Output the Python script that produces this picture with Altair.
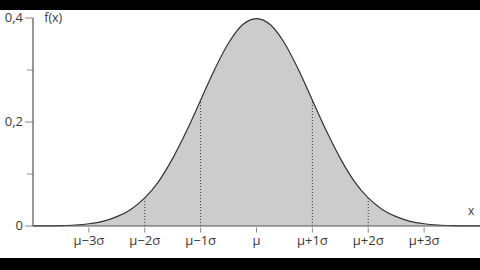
import altair as alt
import pandas as pd

# Curve values (x in units of sigma, f(x))
curve_x = [-4.0, -3.75, -3.5, -3.25, -3.0, -2.75, -2.5, -2.25, -2.0, -1.75, -1.5, -1.25, -1.0,
           -0.75, -0.5, -0.25, 0.0, 0.25, 0.5, 0.75, 1.0, 1.25, 1.5, 1.75, 2.0, 2.25, 2.5,
           2.75, 3.0, 3.25, 3.5, 3.75, 4.0]
curve_y = [0.0001, 0.0004, 0.0009, 0.002, 0.0044, 0.009, 0.018, 0.032, 0.054, 0.086, 0.130,
           0.183, 0.242, 0.301, 0.352, 0.387, 0.399, 0.387, 0.352, 0.301, 0.242, 0.183, 0.130,
           0.086, 0.054, 0.032, 0.018, 0.009, 0.0044, 0.002, 0.0009, 0.0004, 0.0001]

# Dotted guide lines
guide_x = [-2, -1, 1, 2]
guide_y = [0.054, 0.242, 0.242, 0.054]

# X tick positions and labels
xtick_pos = [-3, -2, -1, 0, 1, 2, 3]
xtick_labels = ["μ−3σ", "μ−2σ", "μ−1σ", "μ", "μ+1σ", "μ+2σ", "μ+3σ"]

# Y ticks
ytick_major = [0.0, 0.2, 0.4]
ytick_major_labels = ["0", "0,2", "0,4"]
ytick_minor = [0.1, 0.3]

XMIN, XMAX = -4.5906, 4.0
YMIN, YMAX = -0.0615, 0.4154

xs = alt.Scale(domain=[XMIN, XMAX], nice=False, zero=False)
ys = alt.Scale(domain=[YMIN, YMAX], nice=False, zero=False)


def X(f):
    return alt.X(f, type="quantitative", scale=xs, axis=None)


def Y(f):
    return alt.Y(f, type="quantitative", scale=ys, axis=None)


curve = pd.DataFrame({"x": curve_x, "y": curve_y, "y0": [0.0] * len(curve_x)})
guides = pd.DataFrame({"x": guide_x, "y": guide_y, "y0": [0.0] * 4})
xt = pd.DataFrame({"x": xtick_pos, "label": xtick_labels, "y": [0.0] * len(xtick_pos)})
ytm = pd.DataFrame({"y": ytick_major, "label": ytick_major_labels, "x": [-4.0] * 3})
ytn = pd.DataFrame({"y": ytick_minor, "x": [-4.0] * 2})
axes = pd.DataFrame({"x": [-4.0, -4.0], "x2": [4.0, -4.0], "y": [0.0, 0.0], "y2": [0.0, 0.4]})
names = pd.DataFrame({"x": [-3.8, 3.84], "y": [0.4, 0.029], "t": ["f(x)", "x"]})

TXT = "#3a3a3a"

area = alt.Chart(curve).mark_area(color="#cccccc", interpolate="monotone").encode(
    x=X("x"), y=Y("y"), y2="y0")
line = alt.Chart(curve).mark_line(color="#333333", strokeWidth=1.2, interpolate="monotone").encode(
    x=X("x"), y=Y("y"))
dots = alt.Chart(guides).mark_rule(color="#333333", strokeDash=[1, 2], strokeWidth=1).encode(
    x=X("x"), y=Y("y0"), y2="y")

axis_lines = alt.Chart(axes).mark_rule(color="#555555", strokeWidth=1.2).encode(
    x=X("x"), x2="x2", y=Y("y"), y2="y2")

xticks = alt.Chart(xt).mark_tick(color="#555555", orient="vertical", size=5, thickness=1, yOffset=4).encode(
    x=X("x"), y=Y("y"))
xlabels = alt.Chart(xt).mark_text(fontSize=13, font="Open Sans", color=TXT, dy=15).encode(
    x=X("x"), y=Y("y"), text="label:N")

yticks_major = alt.Chart(ytm).mark_tick(color="#555555", orient="horizontal", size=8, thickness=1, xOffset=-4).encode(
    y=Y("y"), x=X("x"))
yticks_minor = alt.Chart(ytn).mark_tick(color="#555555", orient="horizontal", size=6, thickness=1, xOffset=-3).encode(
    y=Y("y"), x=X("x"))
ylabels = alt.Chart(ytm).mark_text(fontSize=13, font="Open Sans", color=TXT, align="right", dx=-10).encode(
    y=Y("y"), x=X("x"), text="label:N")

fx = alt.Chart(names.iloc[[0]]).mark_text(fontSize=12.5, font="Open Sans", color=TXT, align="left").encode(
    x=X("x"), y=Y("y"), text="t:N")
xl = alt.Chart(names.iloc[[1]]).mark_text(fontSize=12, font="Open Sans", color=TXT, align="center").encode(
    x=X("x"), y=Y("y"), text="t:N")

chart = alt.layer(area, dots, line, axis_lines, xticks, xlabels, yticks_major, yticks_minor,
                  ylabels, fx, xl).properties(
    width=480, height=248,
    padding={"top": 10, "bottom": 12, "left": 0, "right": 0},
    autosize=alt.AutoSizeParams(type="none"),
    background="black",
).configure_view(fill="white", stroke=None)

chart.save("out.html", embed_options={"renderer": "svg", "actions": False})
